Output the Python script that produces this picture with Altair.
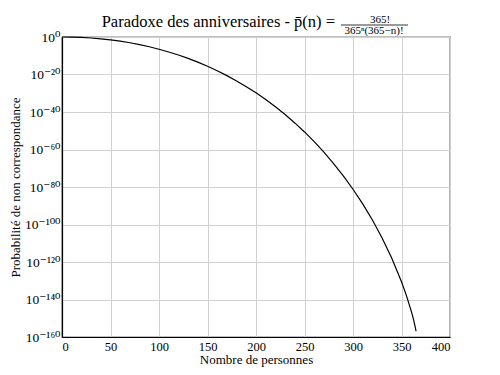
import altair as alt
import pandas as pd

# Data: n (number of people) and log10 of p̄(n)
n_values = [0, 10, 20, 30, 40, 50, 60, 70, 80, 90, 100, 110, 120, 130, 140,
            150, 160, 170, 180, 190, 200, 210, 220, 230, 240, 250, 260, 270,
            280, 290, 300, 310, 320, 330, 340, 350, 355, 360, 361, 362, 363,
            364, 365]
log10_p = [0.0, -0.054, -0.230, -0.532, -0.964, -1.528, -2.231, -3.076,
           -4.067, -5.211, -6.512, -7.978, -9.613, -11.425, -13.421, -15.611,
           -18.002, -20.604, -23.428, -26.487, -29.793, -33.362, -37.210,
           -41.357, -45.825, -50.639, -55.830, -61.433, -67.492, -74.059,
           -81.204, -89.014, -97.611, -107.170, -117.970, -130.519, -137.774,
           -146.105, -147.969, -149.929, -152.014, -154.276, -156.838]

x_ticks = [0, 50, 100, 150, 200, 250, 300, 350, 400]
y_tick_exps = [0, -20, -40, -60, -80, -100, -120, -140, -160]
y_tick_labels = ["10⁰", "10⁻²⁰", "10⁻⁴⁰", "10⁻⁶⁰", "10⁻⁸⁰", "10⁻¹⁰⁰",
                 "10⁻¹²⁰", "10⁻¹⁴⁰", "10⁻¹⁶⁰"]

df = pd.DataFrame({"n": n_values, "p": [10.0 ** v for v in log10_p]})

FONT = "Liberation Serif, DejaVu Serif, serif"

# label expression: map exponent to superscript label
expr = "''"
for e, lab in zip(y_tick_exps, y_tick_labels):
    expr = f"(round(log(datum.value)/LN10) == {e}) ? '{lab}' : ({expr})"

line = alt.Chart(df).mark_line(color="black", strokeWidth=1.2).encode(
    x=alt.X("n:Q", scale=alt.Scale(domain=[0, 400], nice=False),
            axis=alt.Axis(values=x_ticks, title="Nombre de personnes",
                          grid=True, ticks=False, labelPadding=3,
                          titlePadding=1, format="d", labelFontSize=12.5)),
    y=alt.Y("p:Q", scale=alt.Scale(type="log", domain=[1e-160, 1], nice=False),
            axis=alt.Axis(values=[10.0 ** e for e in y_tick_exps],
                          labelExpr=expr, title="Probabilité de non correspondance",
                          grid=True, ticks=False, labelPadding=2,
                          titleX=-47, titleY=150, titleAngle=270,
                          titleAlign="center", titleBaseline="middle",
                          labelFontSize=13.5)),
)

title_main = alt.Chart(pd.DataFrame({"t": ["Paradoxe des anniversaires - p̄(n) ="]})).mark_text(
    font=FONT, fontSize=16.5, align="right", baseline="alphabetic", color="black"
).encode(text="t:N", x=alt.value(273), y=alt.value(-10))

title_num = alt.Chart(pd.DataFrame({"t": ["365!"]})).mark_text(
    font=FONT, fontSize=11, align="center", baseline="alphabetic", color="black"
).encode(text="t:N", x=alt.value(318), y=alt.value(-14))

title_den = alt.Chart(pd.DataFrame({"t": ["365ⁿ(365−n)!"]})).mark_text(
    font=FONT, fontSize=11, align="center", baseline="alphabetic", color="black"
).encode(text="t:N", x=alt.value(312), y=alt.value(-3))

title_bar = alt.Chart(pd.DataFrame({"a": [0]})).mark_rule(color="black", strokeWidth=0.8).encode(
    x=alt.value(279), x2=alt.value(346), y=alt.value(-12))

chart = alt.layer(line, title_main, title_num, title_den, title_bar).properties(
    width=388, height=300,
    autosize=alt.AutoSizeParams(type="none"),
    padding={"left": 54, "top": 29, "right": 40, "bottom": 36},
    background="white",
).configure_view(
    stroke="black", strokeWidth=1.2
).configure_axis(
    labelFont=FONT, titleFont=FONT, labelFontSize=13, titleFontSize=13,
    labelColor="black", titleColor="black", titleFontWeight="normal",
    domainColor="black", domainWidth=1.2,
    gridColor="#d0d0d0", gridWidth=1,
)

chart.save("out.html", embed_options={"renderer": "svg", "actions": False})
